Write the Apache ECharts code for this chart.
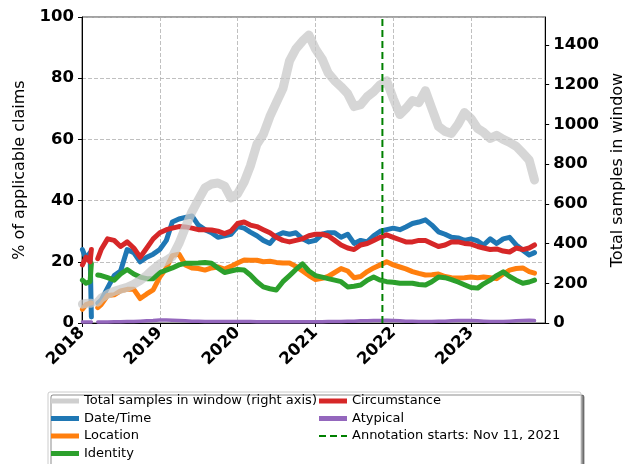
<!DOCTYPE html>
<html>
<head>
<meta charset="utf-8">
<title>Claims over time</title>
<script src="https://cdn.jsdelivr.net/npm/echarts@6/dist/echarts.min.js"></script>
</head>
<body style="margin:0;background:#fff">
<div id="main" style="width:634px;height:464px;"></div>
<script type="text/javascript">

// window end dates (gap in early 2018 is kept as null)
var dates = [
    '2018-01-03', '2018-01-20', '2018-02-08', '2018-02-14', '2018-03-01', '2018-03-16',
    '2018-04-01', '2018-05-01', '2018-06-01', '2018-07-01', '2018-08-01', '2018-09-01', '2018-10-01', '2018-11-01', '2018-12-01',
    '2019-01-01', '2019-02-01', '2019-03-01', '2019-04-01', '2019-05-01', '2019-06-01', '2019-07-01', '2019-08-01', '2019-09-01', '2019-10-01', '2019-11-01', '2019-12-01',
    '2020-01-01', '2020-02-01', '2020-03-01', '2020-04-01', '2020-05-01', '2020-06-01', '2020-07-01', '2020-08-01', '2020-09-01', '2020-10-01', '2020-11-01', '2020-12-01',
    '2021-01-01', '2021-02-01', '2021-03-01', '2021-04-01', '2021-05-01', '2021-06-01', '2021-07-01', '2021-08-01', '2021-09-01', '2021-10-01', '2021-11-01', '2021-12-01',
    '2022-01-01', '2022-02-01', '2022-03-01', '2022-04-01', '2022-05-01', '2022-06-01', '2022-07-01', '2022-08-01', '2022-09-01', '2022-10-01', '2022-11-01', '2022-12-01',
    '2023-01-01', '2023-02-01', '2023-03-01', '2023-04-01', '2023-05-01', '2023-06-01', '2023-07-01', '2023-08-01', '2023-09-01', '2023-10-01',
    '2023-10-26'
];

var totalSamples = [
    95, 98, 100, 100, null, 105,
    125, 145, 160, 170, 180, 195, 215, 240, 270,
    297, 315, 335, 400, 480, 560, 620, 680, 700, 705, 690, 630,
    650, 710, 790, 900, 950, 1040, 1110, 1180, 1320, 1380, 1420, 1450,
    1380, 1330, 1260, 1220, 1190, 1155, 1090, 1100, 1140, 1165, 1200, 1220,
    1130, 1050, 1080, 1120, 1110, 1170, 1080, 990, 965, 955, 1000, 1060,
    1030, 980, 960, 930, 945, 925, 910, 890, 855, 820,
    720
];

var dateTimePct = [
    24, 21, 23, 2, null, 6.5,
    7.5, 11.5, 15.5, 17, 24, 23, 20, 21.5, 22.5,
    24, 27, 33, 34, 34.5, 35, 32, 30.5, 29.5, 28, 28.5, 29,
    31.5, 31, 29.7, 28.5, 27, 26, 28.5, 29.5, 29, 29.5, 27.5, 26.5,
    27, 29, 29.5, 29.5, 28, 29, 26, 27, 26.5, 28.5, 30, 30.5,
    31, 30.5, 31.4, 32.5, 33, 33.7, 32, 29.8, 29, 28, 27.8, 27,
    27.5, 26.8, 25.5, 27.5, 26, 27.5, 28, 25.5, 23.8, 22.2,
    23
];

var locationPct = [
    4.5, 6, 6.5, 6.5, null, 5,
    6, 9, 9.2, 10.5, 11, 11, 8, 9.5, 10.8,
    15, 18, 22, 22.5, 19, 18, 17.8, 17.3, 18, 18.3, 17.6, 18.5,
    19.6, 20.6, 20.5, 20.5, 20, 20.2, 19.8, 19.6, 19.6, 18.5, 17, 15.5,
    14.2, 14.6, 15.2, 16.5, 17.8, 17, 14.8, 15.2, 16.8, 18, 19, 20,
    19, 18.3, 17.7, 16.8, 16.2, 15.7, 15.8, 16, 15.2, 14.8, 14.7, 14.8,
    15, 14.8, 15, 14.8, 14.5, 16, 17.3, 17.8, 18, 16.8,
    16.3
];

var identityPct = [
    14, 13, 13.5, 19.5, null, 15.7,
    15.5, 14.8, 14, 16, 17.5, 16, 15, 14.5, 14.5,
    16.5, 17.3, 18, 19, 19.5, 19.5, 19.6, 19.8, 19.5, 18, 16.5, 17,
    17.5, 17.3, 15.7, 13.5, 11.8, 11.2, 10.8, 13.5, 15.5, 17.5, 19.3, 17,
    15.5, 15, 14.5, 14, 13.5, 11.8, 12, 12.4, 14, 15, 14, 13.5,
    13.3, 13, 13, 13, 12.6, 12.4, 13.5, 15, 14.8, 14.2, 13.4, 12.5,
    11.6, 11.4, 12.8, 14, 15.5, 16.7, 15.2, 14, 13, 13.4,
    14
];

var circumstancePct = [
    19, 21.5, 20, 24, null, 21,
    24, 27.5, 27, 25, 26.5, 24.5, 21.5, 24.5, 27.5,
    29.5, 30.5, 31, 31.5, 31.4, 31, 30.5, 30.5, 30.4, 30, 29.2, 30,
    32.5, 33, 32, 31.5, 30.5, 29.5, 28, 27, 26.5, 27, 27.5, 28.5,
    29, 29, 28.5, 27, 25.5, 24.5, 24, 25.5, 26, 27, 28, 28.8,
    28, 27.2, 26.5, 26.5, 27, 27, 26, 25, 25.5, 26.5, 26.5, 26,
    25.8, 25, 24.5, 24, 24.2, 23.5, 23.2, 24.5, 24, 24.5,
    25.5
];

var atypicalPct = [
    0.3, 0.3, 0.3, 0.3, null, 0.3,
    0.3, 0.3, 0.4, 0.4, 0.5, 0.5, 0.6, 0.7, 0.8,
    1.0, 1.0, 0.9, 0.8, 0.7, 0.6, 0.6, 0.5, 0.5, 0.5, 0.5, 0.5,
    0.5, 0.5, 0.5, 0.4, 0.4, 0.4, 0.4, 0.4, 0.4, 0.4, 0.4, 0.4,
    0.4, 0.4, 0.5, 0.5, 0.5, 0.6, 0.6, 0.7, 0.7, 0.8, 0.8, 0.9,
    0.8, 0.7, 0.6, 0.6, 0.5, 0.5, 0.5, 0.6, 0.6, 0.7, 0.8, 0.8,
    0.8, 0.7, 0.6, 0.5, 0.5, 0.5, 0.6, 0.7, 0.8, 0.9,
    0.8
];

var annotationDate = '2021-11-11';
var rightTicks = [0, 200, 400, 600, 800, 1000, 1200, 1400];

var YEAR = 365.25 * 24 * 3600 * 1000;
var font = 'DejaVu Sans';

function pairs(values) {
    return dates.map(function (d, i) {
        return [Date.parse(d), values[i]];
    });
}

function pctLine(name, values, color, width) {
    return {
        name: name,
        type: 'line',
        yAxisIndex: 0,
        data: pairs(values),
        symbol: 'none',
        color: color,
        lineStyle: { color: color, width: width, join: 'round', cap: 'round' },
        z: 3
    };
}

var legendText = { fontFamily: font, fontSize: 13, color: '#000', lineHeight: 14 };

var myChart = echarts.init(document.getElementById('main'));

var option = {
    animation: false,
    backgroundColor: '#fff',
    textStyle: { fontFamily: font },
    grid: {
        left: 82, right: 86, top: 17, bottom: 141,
        show: true, borderColor: '#444', borderWidth: 1
    },
    graphic: [{
        type: 'rect',
        z: 0,
        shape: { x: 48, y: 392, width: 533, height: 90, r: 2 },
        style: {
            fill: '#fff', stroke: '#cccccc', lineWidth: 1,
            shadowColor: 'rgba(0,0,0,0.45)', shadowOffsetX: 3, shadowOffsetY: 3, shadowBlur: 0
        }
    }],
    legend: [{
        orient: 'vertical', left: 51, top: 394, height: 120, padding: 0, z: 10,
        itemWidth: 28, itemHeight: 5, itemGap: 3.5,
        textStyle: legendText,
        data: [
            { name: 'Total samples in window (right axis)', icon: 'rect' },
            { name: 'Date/Time', icon: 'rect' },
            { name: 'Location', icon: 'rect' },
            { name: 'Identity', icon: 'rect' }
        ]
    }, {
        orient: 'vertical', left: 318, top: 394, height: 120, padding: 0, z: 10,
        itemWidth: 28, itemHeight: 5, itemGap: 3.5,
        textStyle: legendText,
        data: [
            { name: 'Circumstance', icon: 'rect' },
            { name: 'Atypical', icon: 'rect' },
            { name: 'Annotation starts: Nov 11, 2021', itemStyle: { opacity: 0 } }
        ]
    }],
    xAxis: {
        type: 'value',
        min: Date.UTC(2018, 0, 1),
        max: Date.UTC(2023, 11, 15),
        interval: YEAR,
        axisLine: { lineStyle: { color: '#000', width: 1 } },
        axisTick: { length: 4, lineStyle: { color: '#000' } },
        splitLine: { show: true, lineStyle: { color: '#b0b0b0', type: [4, 2], width: 0.8 } },
        axisLabel: {
            rotate: 45, margin: 7, interval: 0, hideOverlap: false,
            color: '#000', fontFamily: font, fontSize: 16.5, fontWeight: 'bold',
            showMaxLabel: false,
            formatter: function (v) {
                var d = new Date(v + 3 * 86400000);
                var start = Date.UTC(d.getUTCFullYear(), 0, 1);
                return Math.abs(v - start) < 5 * 86400000 ? String(d.getUTCFullYear()) : '';
            }
        }
    },
    yAxis: [{
        type: 'value',
        min: 0, max: 100, interval: 20,
        name: '% of applicable claims',
        nameLocation: 'middle', nameRotate: 90, nameGap: 54,
        nameTextStyle: { fontFamily: font, fontSize: 16, color: '#000' },
        axisLine: { show: true, lineStyle: { color: '#000', width: 1 } },
        axisTick: { show: true, length: 4, lineStyle: { color: '#000' } },
        splitLine: { show: true, lineStyle: { color: '#b0b0b0', type: [4, 2], width: 0.8 } },
        axisLabel: { color: '#000', fontFamily: font, fontSize: 16.5, fontWeight: 'bold', margin: 8 }
    }, {
        type: 'value',
        min: 0, max: 1541,
        position: 'right',
        name: 'Total samples in window',
        nameLocation: 'middle', nameRotate: 90, nameGap: 60,
        nameTextStyle: { fontFamily: font, fontSize: 16, color: '#000' },
        axisLine: { show: true, lineStyle: { color: '#000', width: 1 } },
        axisTick: { show: true, length: 4, customValues: rightTicks, lineStyle: { color: '#000' } },
        splitLine: { show: false },
        axisLabel: {
            customValues: rightTicks,
            color: '#000', fontFamily: font, fontSize: 16.5, fontWeight: 'bold', margin: 8,
            formatter: function (v) { return String(v); }
        }
    }],
    series: [
        pctLine('Date/Time', dateTimePct, '#1f77b4', 5),
        pctLine('Location', locationPct, '#ff7f0e', 5),
        pctLine('Identity', identityPct, '#2ca02c', 5),
        pctLine('Circumstance', circumstancePct, '#d62728', 5),
        pctLine('Atypical', atypicalPct, '#9467bd', 3.5),
        {
            name: 'Total samples in window (right axis)',
            type: 'line',
            yAxisIndex: 1,
            data: pairs(totalSamples),
            symbol: 'none',
            color: '#cfcfcf',
            lineStyle: { color: '#c8c8c8', width: 9, opacity: 0.75, join: 'round', cap: 'round' },
            z: 4
        },
        {
            name: 'Annotation starts: Nov 11, 2021',
            type: 'line',
            yAxisIndex: 0,
            data: [[Date.parse(annotationDate), 0], [Date.parse(annotationDate), 100]],
            symbol: 'none',
            color: '#008000',
            lineStyle: { color: '#008000', width: 2, type: [7, 4] },
            z: 5
        }
    ]
};

myChart.setOption(option);
</script>
</body>
</html>
